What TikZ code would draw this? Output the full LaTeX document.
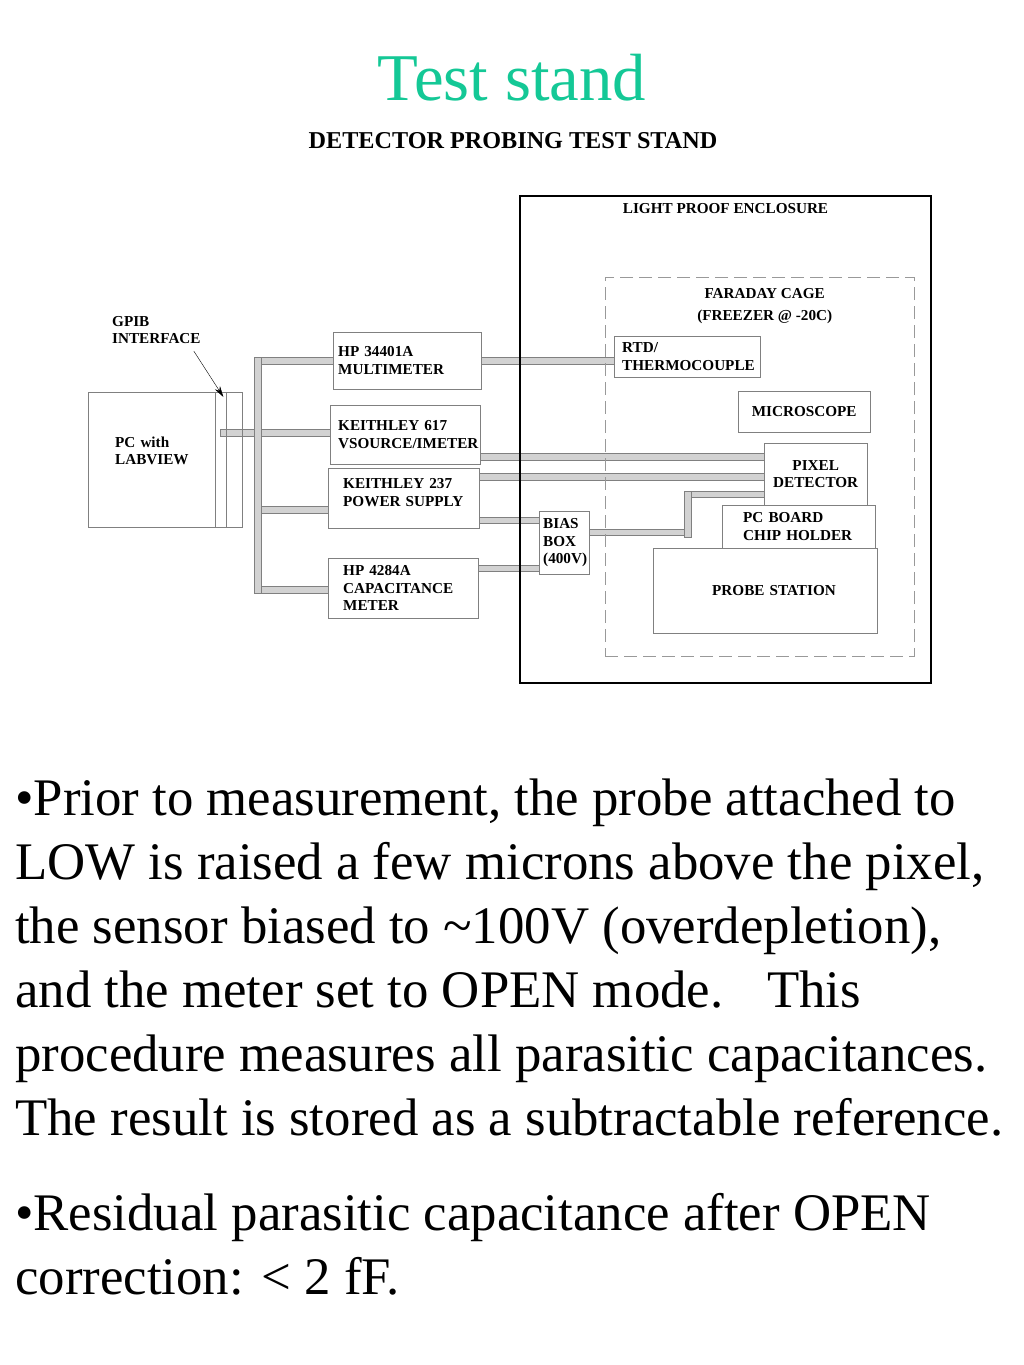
\documentclass[tikz,border=0pt]{standalone}
\usepackage{fontspec}
\setmainfont{Liberation Serif}
\usetikzlibrary{arrows.meta,positioning,backgrounds}
\definecolor{titlegreen}{RGB}{20,200,150}

\newcommand{\diagfont}{\fontsize{15.2}{17.5}\selectfont\bfseries}

\begin{document}
\begin{tikzpicture}[x=1pt, y=-1pt,
    unit/.style={draw=gray, fill=white, anchor=north west, align=left, font=\diagfont, inner ysep=0pt},
    lbl/.style={font=\diagfont, inner sep=0pt},
    cable/.style={draw=gray, fill=gray!35, line width=0.7pt},
    body/.style={font=\fontsize{52.8}{64}\selectfont, align=left, anchor=north west, inner sep=0pt}]

    % headings
    \node[font=\fontsize{66.8}{70}\selectfont, text=titlegreen, anchor=base] (title) at (512,100) {Test stand};
    \node[font=\fontsize{24.2}{26}\selectfont\bfseries, anchor=base] (subtitle) at (513,148) {DETECTOR PROBING TEST STAND};

    % instruments
    \node[unit, fill=none, minimum height=135pt, text width=100pt, inner xsep=27pt] (pc) at (88,392) {PC with\\LABVIEW\\\mbox{}};
    \node[unit, minimum height=57pt, text width=138pt, inner xsep=5pt] (mm) at (333,332) {HP 34401A\\MULTIMETER};
    \node[unit, minimum height=59pt, text width=134pt, inner xsep=8pt] (k617) at (330,405) {\mbox{KEITHLEY 617}\\\mbox{VSOURCE/IMETER}};
    \node[unit, minimum height=60pt, text width=121pt, inner xsep=15pt] (k237) at (328,468) {\mbox{KEITHLEY 237}\\\mbox{POWER SUPPLY}\\[-6pt]\mbox{}};
    \node[unit, minimum height=60pt, text width=120pt, inner xsep=15pt] (hp) at (328,558) {HP 4284A\\\mbox{CAPACITANCE}\\METER};
    \node[unit, minimum height=63pt, text width=42pt, inner xsep=4pt] (bias) at (539,511) {BIAS\\BOX\\\mbox{(400V)}};

    % inside the freezer
    \node[unit, minimum height=41pt, text width=130pt, inner xsep=8pt] (rtd) at (614,336) {RTD/\\\mbox{THERMOCOUPLE}};
    \node[unit, minimum height=41pt, minimum width=132pt, align=center] (micro) at (738,391) {MICROSCOPE};
    \node[unit, minimum height=62pt, minimum width=103pt, align=center] (pix) at (764,443) {PIXEL\\DETECTOR};
    \node[unit, minimum height=43pt, text width=111pt, inner xsep=21pt] (board) at (722,505) {\mbox{PC BOARD}\\\mbox{CHIP HOLDER}};
    \node[unit, minimum height=85pt, text width=106pt, inner xsep=59pt] (probe) at (653,548) {\mbox{PROBE STATION}};

    % GPIB slots
    \draw[gray] ([xshift=-27pt]pc.north east) -- ([xshift=-27pt]pc.south east);
    \draw[gray] ([xshift=-16pt]pc.north east) -- ([xshift=-16pt]pc.south east);
    \node[lbl, align=left, anchor=west] (gpib) at (112,330) {GPIB\\INTERFACE};
    \draw[-{Stealth[length=11pt,width=6pt]}] ([xshift=-7pt,yshift=-7pt]gpib.south east) -- ([xshift=-19pt,yshift=-5pt]pc.north east);

    % cables
    \coordinate (bus) at (258,0);
    \coordinate (jog) at ([xshift=-76pt]pix.west);
    \begin{pgfonlayer}{background}
        \fill[white] (0,0) rectangle (1024,1365);
        \draw[cable] ([xshift=-22pt,yshift=30.5pt]pc.east) rectangle ([yshift=23.5pt]pc.east -| k617.west);
        \draw[cable] ([yshift=3.5pt]mm.west) rectangle ([yshift=-3.5pt]mm.west -| bus);
        \draw[cable] ([yshift=-8pt]k237.west) rectangle ([yshift=-15pt]k237.west -| bus);
        \draw[cable] ([yshift=2pt]hp.west) rectangle ([yshift=-5pt]hp.west -| bus);
        \draw[cable] ([xshift=-3.5pt,yshift=3.5pt]mm.west -| bus) rectangle ([xshift=3.5pt,yshift=-5pt]hp.west -| bus);
        \draw[cable] ([yshift=3.5pt]mm.east) rectangle ([yshift=-3.5pt]mm.east -| rtd.west);
        \draw[cable] ([yshift=-18.5pt]k617.east) rectangle ([yshift=-25.5pt]k617.east -| pix.west);
        \draw[cable] ([yshift=25pt]k237.east) rectangle ([yshift=18pt]k237.east -| pix.west);
        \draw[cable] ([yshift=-19pt]k237.east) rectangle ([yshift=-25pt]k237.east -| bias.west);
        \draw[cable] ([yshift=23pt]hp.east) rectangle ([yshift=17pt]hp.east -| bias.west);
        \draw[cable] ([yshift=13.5pt]bias.east) rectangle ([yshift=7.5pt]bias.east -| jog);
        \draw[cable] ([yshift=-17pt]pix.west) rectangle ([yshift=-23pt]pix.west -| jog);
        \draw[cable] ([xshift=-3.5pt,yshift=-17pt]jog) rectangle ([xshift=3.5pt,yshift=5.5pt]bias.east -| jog);
    \end{pgfonlayer}
    \path[use as bounding box] (0,0) rectangle (1024,1365);

    % enclosure and cage
    \node[draw=black, line width=2pt, minimum width=411pt, minimum height=487pt, anchor=north west, inner sep=0pt] (encl) at (519,195) {};
    \node[lbl] (encllbl) at ([yshift=-14pt]encl.north) {LIGHT PROOF ENCLOSURE};
    \node[draw=gray!80, dash pattern=on 13pt off 6pt, minimum width=309pt, minimum height=379pt, anchor=north west, inner sep=0pt] (cage) at (605,277) {};
    \node[lbl, align=center] (cagelbl) at ([xshift=5pt,yshift=-29pt]cage.north) {FARADAY CAGE\\[4.5pt](FREEZER @ -20C)};

    % text
    \node[body] (para1) at (15,779) {%
        •Prior to measurement, the probe attached to\\
        LOW is raised a few microns above the pixel,\\
        the sensor biased to \textasciitilde100V (overdepletion),\\
        and the meter set to OPEN mode.\hspace{26pt} This\\
        procedure measures all parasitic capacitances.\\
        The result is stored as a subtractable reference.};
    \node[body] (para2) at (15,1193) {%
        •Residual parasitic capacitance after OPEN\\
        correction: < 2 fF.};

\end{tikzpicture}
\end{document}
